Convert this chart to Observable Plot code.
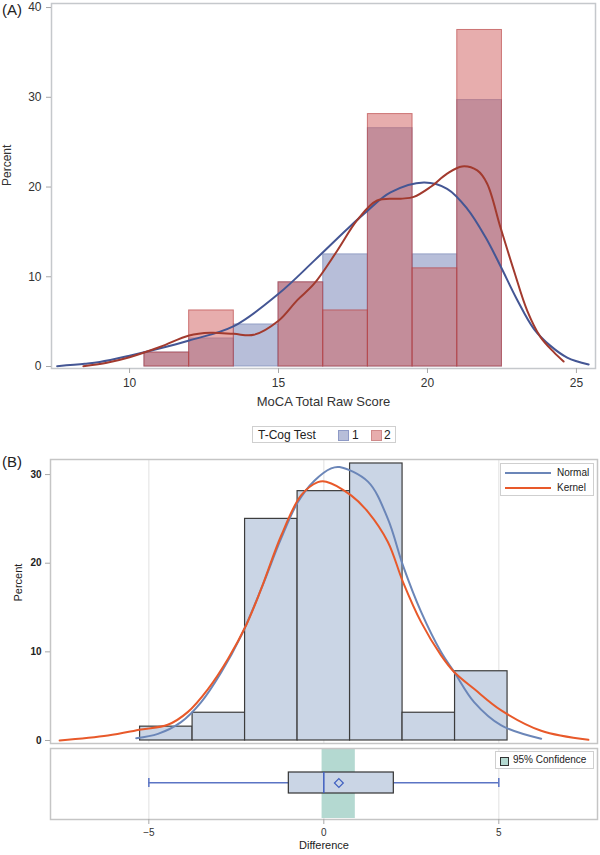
<!DOCTYPE html>
<html>
<head>
<meta charset="utf-8">
<script src="https://cdn.jsdelivr.net/npm/d3@7"></script>
<script src="https://cdn.jsdelivr.net/npm/@observablehq/plot@0.6"></script>
<style>
  body { margin: 0; background: #fff; }
  #root { position: relative; width: 600px; height: 855px; font-family: "Liberation Sans", Arial, sans-serif; color: #222; overflow: hidden; }
  .abs { position: absolute; }
  .leg { position: absolute; border: 1px solid #cfcfcf; background: #fff; box-sizing: border-box; }
</style>
</head>
<body>
<div id="root">
  <div class="abs" style="left:2px;top:1px;font-size:15px;">(A)</div>
  <div class="abs" id="plotA" style="left:0;top:0;"></div>
  <div class="leg" id="legA" style="left:252px;top:426px;width:144px;height:17px;font-size:12px;">
    <span class="abs" style="left:5px;top:1px;">T-Cog Test</span>
    <span class="abs" style="left:85px;top:3px;width:9px;height:9px;background:#b7bed9;border:1px solid #8e9ac6;"></span>
    <span class="abs" style="left:99px;top:1px;">1</span>
    <span class="abs" style="left:118px;top:3px;width:9px;height:9px;background:#e7adad;border:1px solid #d08a8a;"></span>
    <span class="abs" style="left:131px;top:1px;">2</span>
  </div>
  <div class="abs" style="left:2px;top:453px;font-size:15px;">(B)</div>
  <div class="abs" id="plotB1" style="left:0;top:455px;"></div>
  <div class="abs" id="plotB2" style="left:0;top:745px;"></div>
  <div class="leg" style="left:500px;top:463px;width:94px;height:33px;font-size:10px;">
    <span class="abs" style="left:4px;top:8px;width:46px;height:2px;background:#6b86b8;"></span>
    <span class="abs" style="left:56px;top:3px;">Normal</span>
    <span class="abs" style="left:4px;top:23px;width:46px;height:2px;background:#e8592a;"></span>
    <span class="abs" style="left:56px;top:18px;">Kernel</span>
  </div>
  <div class="leg" style="left:495px;top:751px;width:99px;height:18px;font-size:10px;">
    <span class="abs" style="left:4px;top:5px;width:7px;height:7px;background:#b4d9d1;border:1px solid #333;"></span>
    <span class="abs" style="left:17px;top:2px;">95% Confidence</span>
  </div>
</div>
<script>
// ---------- Panel A data ----------
const scoreEdges = [10.5, 12, 13.5, 15, 16.5, 18, 19.5, 21, 22.5];
const test1Pct = [1.56, 3.13, 4.69, 9.38, 12.5, 26.56, 12.5, 29.69];
const test2Pct = [1.56, 6.25, 0, 9.38, 6.25, 28.13, 10.94, 37.5];
const curve1X = [7.57, 8.5, 9, 10, 11, 12, 13.5, 15, 16.2, 17.3, 18, 18.76, 19.88, 20.66, 21.33, 21.95, 22.45, 23.0, 23.57, 24.13, 24.69, 25.41];
const curve1Y = [0.04, 0.3, 0.5, 1.2, 2.0, 2.9, 4.5, 8.1, 11.8, 15.3, 17.4, 19.4, 20.5, 19.8, 17.6, 14.4, 11.2, 7.5, 4.2, 2.3, 1.0, 0.22];
const curve2X = [8.45, 9.2, 10, 11.04, 12, 12.72, 13.5, 14.17, 15, 15.63, 16.19, 16.97, 17.64, 18.31, 19.1, 19.54, 20.1, 20.66, 21.16, 21.67, 22.0, 22.45, 22.9, 23.35, 23.79, 24.24, 24.57];
const curve2Y = [0.04, 0.4, 1.04, 2.2, 3.46, 3.75, 3.64, 3.53, 5.1, 7.4, 9.2, 12.9, 16.3, 18.5, 18.7, 18.9, 20.0, 21.5, 22.3, 21.85, 20.4, 15.5, 10.7, 6.2, 3.3, 1.6, 0.56];
const scoreTicks = [10, 15, 20, 25];
const pctTicksA = [0, 10, 20, 30, 40];

// ---------- Panel B data ----------
const diffEdges = [-5.25, -3.75, -2.25, -0.75, 0.75, 2.25, 3.75, 5.25];
const diffPct = [1.56, 3.13, 25.0, 28.13, 31.25, 3.13, 7.81];
const normalX = [-5.36, -4.74, -4.08, -3.51, -2.93, -2.36, -1.79, -1.22, -0.74, -0.27, 0.21, 0.45, 1.26, 1.83, 2.26, 2.78, 3.35, 3.73, 4.3, 5.07, 6.21];
const normalY = [0.26, 0.75, 2.07, 4.3, 7.7, 11.85, 17.1, 22.8, 26.9, 29.3, 30.7, 30.85, 29.2, 25.0, 19.75, 14.5, 9.97, 7.7, 4.3, 1.7, 0.19];
const kernelX = [-7.55, -6.17, -5.22, -4.46, -3.89, -3.31, -2.74, -2.22, -1.79, -1.22, -0.65, -0.17, 0.07, 0.78, 1.26, 1.83, 2.26, 2.78, 3.35, 3.73, 4.3, 5.07, 6.21, 7.56];
const kernelY = [0, 0.56, 1.24, 1.77, 3.2, 5.8, 9.2, 13.0, 17.1, 23.1, 27.65, 29.15, 29.2, 27.65, 25.8, 22.4, 17.9, 13.35, 9.6, 7.7, 5.8, 3.4, 1.1, 0.08];
const diffTicks = [-5, 0, 5];
const pctTicksB = [0, 10, 20, 30];
const boxStat = ["min", "q1", "median", "q3", "max"];
const boxValue = [-5, -1, 0, 2, 5];
const diffMean = [0.43];
const ciBounds = [-0.05, 0.9];

const font = "'Liberation Sans', Arial, sans-serif";
const baseStyle = {fontFamily: font, background: "transparent", overflow: "visible", color: "#222"};

const binIdx = d3.range(test1Pct.length);
const pts = (xs, ys) => xs.map((x, i) => ({x, y: ys[i]}));

const plotA = Plot.plot({
  width: 600, height: 415,
  marginLeft: 51, marginRight: 5, marginTop: 3, marginBottom: 47,
  style: {...baseStyle, fontSize: "12px"},
  x: {domain: [7.38, 25.64]},
  y: {domain: [-0.22, 40.45]},
  marks: [
    Plot.rectY(binIdx, {x1: i => scoreEdges[i], x2: i => scoreEdges[i + 1], y: i => test1Pct[i],
      fill: "#6F7EB3", fillOpacity: 0.5, stroke: "#6F7EB3", strokeOpacity: 0.6, strokeWidth: 1}),
    Plot.rectY(binIdx.filter(i => test2Pct[i] > 0), {x1: i => scoreEdges[i], x2: i => scoreEdges[i + 1], y: i => test2Pct[i],
      fill: "#D05B5B", fillOpacity: 0.5, stroke: "#b84040", strokeOpacity: 0.65, strokeWidth: 1}),
    Plot.line(pts(curve1X, curve1Y), {x: "x", y: "y", stroke: "#445694", strokeWidth: 2, curve: "catmull-rom"}),
    Plot.line(pts(curve2X, curve2Y), {x: "x", y: "y", stroke: "#A23A2E", strokeWidth: 2, curve: "catmull-rom"}),
    Plot.frame({stroke: "#c5c8cc", strokeWidth: 1.5}),
    Plot.axisX(scoreTicks, {tickSize: 5, tickPadding: 5, stroke: "#a8a8a8", fill: "#333", fontSize: 12, label: null}),
    Plot.axisY(pctTicksA, {tickSize: 5, tickPadding: 5, stroke: "#a8a8a8", fill: "#333", fontSize: 12, label: null}),
    Plot.text(["MoCA Total Raw Score"], {frameAnchor: "bottom", dy: 37, fontSize: 13, fill: "#333"}),
    Plot.text(["Percent"], {frameAnchor: "left", dx: -44, rotate: -90, fontSize: 12, fill: "#333"})
  ]
});
document.getElementById("plotA").appendChild(plotA);

const diffIdx = d3.range(diffPct.length);
const plotB1 = Plot.plot({
  width: 600, height: 290,
  marginLeft: 50, marginRight: 3, marginTop: 4, marginBottom: 2,
  style: {...baseStyle, fontSize: "10px"},
  x: {domain: [-7.81, 7.82], axis: null},
  y: {domain: [-0.34, 31.7]},
  marks: [
    Plot.ruleX(diffTicks, {stroke: "#e6e6e6", strokeWidth: 1.2}),
    Plot.rectY(diffIdx, {x1: i => diffEdges[i], x2: i => diffEdges[i + 1], y: i => diffPct[i],
      fill: "#cad5e5", stroke: "#3c3c3c", strokeWidth: 1.2}),
    Plot.line(pts(normalX, normalY), {x: "x", y: "y", stroke: "#6b86b8", strokeWidth: 2, curve: "catmull-rom"}),
    Plot.line(pts(kernelX, kernelY), {x: "x", y: "y", stroke: "#e8592a", strokeWidth: 2, curve: "catmull-rom"}),
    Plot.frame({stroke: "#c5c5c5", strokeWidth: 1.5}),
    Plot.axisY(pctTicksB, {tickSize: 5, tickPadding: 4, stroke: "#a8a8a8", fill: "#222", fontSize: 10, fontWeight: "bold", label: null}),
    Plot.text(["Percent"], {frameAnchor: "left", dx: -32, rotate: -90, fontSize: 11, fill: "#222"})
  ]
});
document.getElementById("plotB1").appendChild(plotB1);

const plotB2 = Plot.plot({
  width: 600, height: 110,
  marginLeft: 50, marginRight: 3, marginTop: 3, marginBottom: 36,
  style: {...baseStyle, fontSize: "10px"},
  x: {domain: [-7.81, 7.82]},
  marks: [
    Plot.ruleX(diffTicks, {stroke: "#e6e6e6", strokeWidth: 1.2}),
    Plot.barX([ciBounds], {x1: d => d[0], x2: d => d[1], fill: "#b4d9d1", insetTop: 1, insetBottom: 1}),
    Plot.barX([boxValue], {x1: d => d[0], x2: d => d[1], fill: "#5b74c4", insetTop: 34, insetBottom: 35.5}),
    Plot.barX([boxValue], {x1: d => d[3], x2: d => d[4], fill: "#5b74c4", insetTop: 34, insetBottom: 35.5}),
    Plot.tickX([boxValue[0], boxValue[4]], {x: d => d, stroke: "#5b74c4", strokeWidth: 1.5, insetTop: 30, insetBottom: 32}),
    Plot.barX([boxValue], {x1: d => d[1], x2: d => d[3], fill: "#cad5e5", stroke: "#333", strokeWidth: 1.2, insetTop: 24, insetBottom: 26}),
    Plot.tickX([boxValue[2]], {x: d => d, stroke: "#3f5fc0", strokeWidth: 1.5, insetTop: 24, insetBottom: 26}),
    Plot.dot(diffMean, {x: d => d, dy: -1, symbol: "diamond2", r: 4, stroke: "#3f5fc0", strokeWidth: 1.2, fill: "none"}),
    Plot.frame({stroke: "#c5c5c5", strokeWidth: 1.5}),
    Plot.axisX(diffTicks, {tickSize: 5, tickPadding: 4, stroke: "#a8a8a8", fill: "#333", fontSize: 10, label: null}),
    Plot.text(["Difference"], {frameAnchor: "bottom", dy: 29, fontSize: 11, fill: "#222"})
  ]
});
document.getElementById("plotB2").appendChild(plotB2);
</script>
</body>
</html>
